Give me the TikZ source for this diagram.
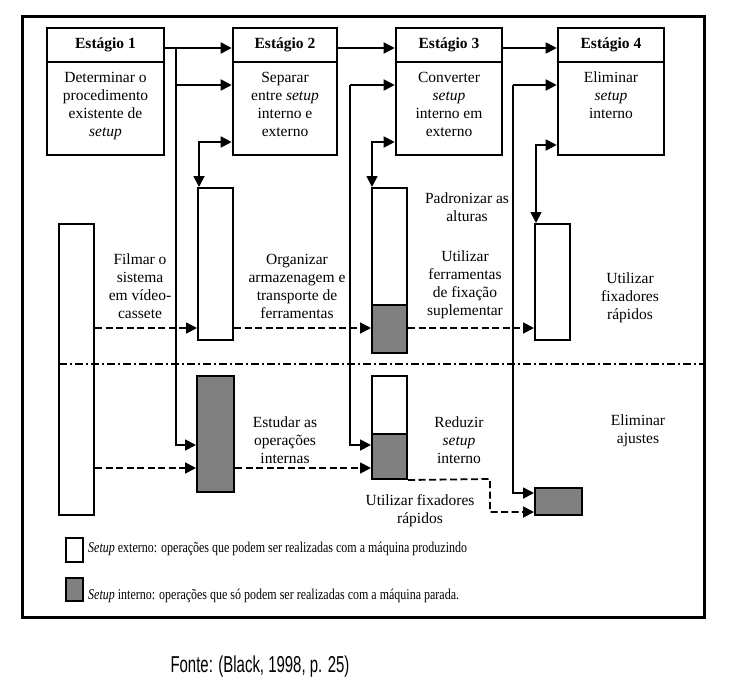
\documentclass[tikz,border=0pt]{standalone}
\usepackage{fontspec}
\usepackage{graphicx}
\setmainfont{Liberation Serif}
\newfontfamily\fontesans{Liberation Sans}
\usetikzlibrary{arrows.meta}

\begin{document}
\begin{tikzpicture}[x=1pt, y=-1pt,
  seta/.style={-{Triangle[length=11pt,width=11pt]}},
  setadupla/.style={{Triangle[length=11pt,width=11pt]}-{Triangle[length=11pt,width=11pt]}},
  fio/.style={line width=1.8pt},
  tracejada/.style={line width=1.8pt, dash pattern=on 7pt off 3.5pt},
  cabeca/.style={draw, line width=2.6pt, minimum width=#1, minimum height=34pt,
    inner sep=0pt, font=\fontsize{15.5}{18}\selectfont\bfseries},
  corpo/.style={draw, line width=2.6pt, minimum width=#1, minimum height=93pt, inner sep=0pt},
  texto/.style={align=center, inner sep=0pt, font=\fontsize{15.5}{18}\selectfont},
  barra/.style={draw, line width=2pt, inner sep=0pt, minimum width=35pt, fill=white},
  cinza/.style={barra, fill=gray},
]
  \useasboundingbox (0,0) rectangle (730,685);
  \draw[line width=3pt] (22,17) rectangle (704,617);

  \foreach \n/\cx/\w in {1/105.5/117, 2/285/104, 3/449/106, 4/611/106}
  {
    \node[cabeca=\w] (h\n) at (\cx,45) {Estágio \n};
    \node[corpo=\w] (b\n) at (\cx,108.5) {};
  }
  \node[texto, anchor=north] (t1) at (105.5,72) {Determinar o\\procedimento\\existente de\\\textit{setup}};
  \node[texto, anchor=north] (t2) at (285,72) {Separar\\entre \textit{setup}\\interno e\\externo};
  \node[texto, anchor=north] (t3) at (449,72) {Converter\\\textit{setup}\\interno em\\externo};
  \node[texto, anchor=north] (t4) at (611,72) {Eliminar\\\textit{setup}\\interno};

  % barras
  \node[barra, minimum height=291pt] (film) at (76.5,369.5) {};
  \node[barra, minimum height=152pt] (w2) at (215.5,264) {};
  \node[barra, minimum height=117pt] (w3) at (389.5,246.5) {};
  \node[cinza, minimum height=48pt] (w3g) at (389.5,329) {};
  \node[barra, minimum height=116pt] (w4) at (552.5,282) {};
  \node[cinza, minimum width=37pt, minimum height=116pt] (g2) at (215.5,434) {};
  \node[barra, minimum height=58pt] (r3) at (389.5,405) {};
  \node[cinza, minimum height=45pt] (r3g) at (389.5,456.5) {};
  \node[cinza, minimum width=47pt, minimum height=27pt] (q5) at (558.5,501.5) {};

  \coordinate (c1) at (176,48);
  \coordinate (c2) at (350,85);
  \coordinate (c4) at (513,85);
  \coordinate (d5) at (490,479);

  \draw[fio, seta] (h1.east |- c1) -- (h2.west |- c1);
  \draw[fio, seta] (h2.east |- c1) -- (h3.west |- c1);
  \draw[fio, seta] (h3.east |- c1) -- (h4.west |- c1);
  \draw[fio, seta] (176,85) -- (b2.west |- 0,85);
  \draw[fio, seta] (c1) |- (g2.west |- 0,445);
  \draw[fio, seta] (c2) -- (b3.west |- c2);
  \draw[fio, seta] (c2) |- (r3g.west |- 0,445);
  \draw[fio, seta] (c4) -- (b4.west |- c4);
  \draw[fio, seta] (c4) |- (q5.west |- 0,493);
  \draw[fio, setadupla] ([xshift=2pt]w2.north west) |- (b2.west |- 0,142);
  \draw[fio, setadupla] ([xshift=1pt]w3.north west) |- (b3.west |- 0,142);
  \draw[fio, setadupla] ([xshift=2pt]w4.north west) |- (b4.west |- 0,145);

  \draw[tracejada, seta] (film.east |- 0,328) -- (w2.west |- 0,328);
  \draw[tracejada, seta] (w2.east |- 0,328) -- (w3g.west |- 0,328);
  \draw[tracejada, seta] (w3g.east |- 0,328) -- (w4.west |- 0,328);
  \draw[tracejada, seta] (film.east |- 0,468) -- (g2.west |- 0,468);
  \draw[tracejada, seta] (g2.east |- 0,468) -- (r3g.west |- 0,468);
  \draw[tracejada, seta] (r3g.south east) -- (d5) |- (q5.west |- 0,512);

  \draw[line width=1.5pt, dash pattern=on 8pt off 3pt on 2pt off 3pt] (59,364) -- (703,364);

  \node[texto] (l1) at (140,286) {Filmar o\\sistema\\em vídeo-\\cassete};
  \node[texto] (l2) at (297,286) {Organizar\\armazenagem e\\transporte de\\ferramentas};
  \node[texto] (l3) at (467,207) {Padronizar as\\alturas};
  \node[texto] (l4) at (465,285) {Utilizar\\ferramentas\\de fixação\\suplementar};
  \node[texto] (l5) at (630,298) {Utilizar\\fixadores\\rápidos};
  \node[texto] (l6) at (285,440) {Estudar as\\operações\\internas};
  \node[texto] (l7) at (459,440) {Reduzir\\\textit{setup}\\interno};
  \node[texto] (l8) at (638,431) {Eliminar\\ajustes};
  \node[texto] (l9) at (420,511) {Utilizar fixadores\\rápidos};

  \node[barra, minimum width=17pt, minimum height=24pt, line width=1.5pt] (le) at (74.5,550) {};
  \node[cinza, minimum width=17pt, minimum height=23pt, line width=1.5pt] (li) at (74.5,589.5) {};
  \node[anchor=west, inner sep=0pt, font=\fontsize{15}{17}\selectfont] (lte) at (88,549)
    {\scalebox{0.8}[1]{\textit{Setup} externo: operações que podem ser realizadas com a máquina produzindo}};
  \node[anchor=west, inner sep=0pt, font=\fontsize{15}{17}\selectfont] (lti) at (88,596)
    {\scalebox{0.8}[1]{\textit{Setup} interno: operações que só podem ser realizadas com a máquina parada.}};

  \node[font=\fontesans\fontsize{23}{26}\selectfont] (fonte) at (260,667)
    {\scalebox{0.65}[1]{Fonte: (Black, 1998, p. 25)}};
\end{tikzpicture}
\end{document}
